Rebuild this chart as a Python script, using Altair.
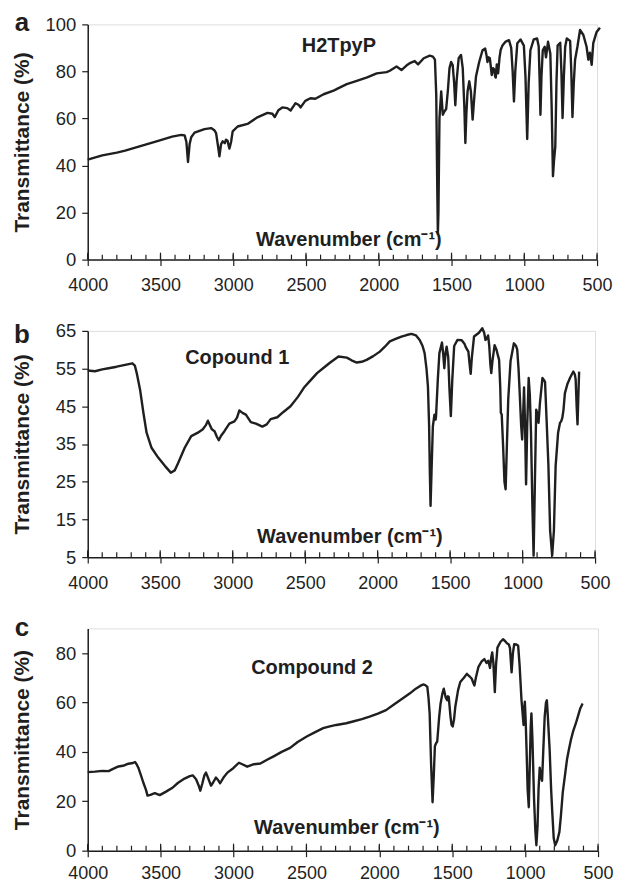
import altair as alt
import pandas as pd

# ---------------- data ----------------
A_WN = [4000, 3900, 3800, 3743, 3650, 3516, 3420, 3357, 3334, 3322, 3311, 3300, 3289, 3266, 3198, 3152, 3130, 3118,
        3104, 3095, 3084, 3073, 3058, 3050, 3039, 3030, 3026, 3015, 3004, 2970, 2902, 2834, 2765, 2731, 2715, 2690,
        2663, 2629, 2606, 2572, 2549, 2538, 2505, 2470, 2436, 2379, 2311, 2287, 2220, 2151, 2080, 2014, 1946, 1924,
        1878, 1844, 1810, 1787, 1753, 1730, 1691, 1650, 1628, 1614, 1605, 1598, 1594, 1590, 1583, 1571, 1560, 1549,
        1537, 1525, 1514, 1503, 1492, 1482, 1474, 1465, 1451, 1435, 1423, 1412, 1405, 1398, 1390, 1378, 1367, 1355,
        1345, 1332, 1310, 1287, 1269, 1260, 1253, 1245, 1237, 1230, 1224, 1215, 1208, 1200, 1196, 1189, 1180, 1170,
        1162, 1150, 1128, 1105, 1090, 1080, 1071, 1062, 1048, 1026, 1003, 992, 980, 970, 958, 935, 912, 901, 894, 889,
        882, 873, 860, 851, 837, 821, 812, 803, 796, 787, 779, 771, 753, 745, 737, 728, 719, 708, 685, 677, 669, 660,
        651, 635, 617, 594, 572, 560, 549, 537, 526, 503, 480]
A_T = [42.5, 44.3, 45.5, 46.3, 48, 50.5, 52.3, 53, 52.8, 50, 41.5, 49, 52, 54, 55.5, 55.9, 55, 53.8,
       48, 43.9, 49, 50.3, 49.5, 51, 50.5, 48, 47.2, 50, 54.5, 56.6, 57.7, 60.5, 62.4, 62, 60.6, 63.5,
       64.7, 64.4, 63.4, 66.5, 65.7, 64.7, 67.5, 68.6, 68.4, 70.3, 71.8, 72.6, 74.6, 76, 77.5, 79.2, 79.7, 80.3,
       82.1, 80.6, 82.5, 83.5, 84.4, 83, 85.6, 86.7, 86.3, 85, 70, 30, 11, 20, 60, 71.5, 61.6, 63,
       64, 72, 81.4, 84, 82.7, 75, 65.6, 76, 85.6, 87, 81.4, 65, 49.6, 62, 71.5, 75.8, 71.5, 59.5,
       68, 77.8, 84, 89, 89.7, 87, 84, 86, 85.6, 82, 78.5, 81.4, 81, 77.8, 77.4, 83, 79.2, 86,
       89.2, 91, 92.7, 93.3, 90, 80, 67.2, 80, 92, 93.6, 91, 78, 51.3, 75, 89, 93.6, 94, 90.6, 75, 61.6,
       78, 89, 90.5, 86, 92.6, 87.5, 65, 35.5, 42, 48, 75, 91, 92.2, 80, 60.2, 78, 90.5, 94, 93, 80, 60.6, 75,
       85, 90.5, 97.6, 95.5, 90.5, 85, 88, 82.8, 92, 96.8, 98.6]

B_WN = [4000, 3950, 3900, 3856, 3800, 3742, 3692, 3675, 3662, 3639, 3616, 3594, 3560, 3514, 3468, 3427, 3400, 3377,
        3331, 3286, 3240, 3206, 3185, 3171, 3157, 3144, 3125, 3110, 3096, 3080, 3057, 3023, 2988, 2970, 2954, 2930,
        2909, 2875, 2840, 2795, 2765, 2738, 2692, 2650, 2601, 2550, 2509, 2460, 2418, 2370, 2327, 2270, 2213, 2180,
        2144, 2110, 2076, 2030, 1985, 1950, 1916, 1880, 1836, 1800, 1767, 1735, 1710, 1690, 1676, 1663, 1653, 1645,
        1640, 1635, 1628, 1619, 1608, 1600, 1597, 1585, 1574, 1556, 1548, 1540, 1532, 1524, 1513, 1505, 1495, 1485,
        1472, 1449, 1420, 1400, 1392, 1374, 1365, 1358, 1350, 1335, 1301, 1278, 1265, 1256, 1248, 1238, 1230, 1222,
        1216, 1208, 1193, 1180, 1173, 1162, 1154, 1150, 1144, 1135, 1125, 1117, 1108, 1099, 1083, 1060, 1045, 1037,
        1028, 1021, 1010, 1003, 996, 990, 983, 976, 968, 958, 950, 942, 932, 924, 915, 906, 898, 890, 880, 863, 853,
        845, 835, 822, 810, 796, 784, 772, 755, 742, 734, 726, 718, 708, 690, 673, 660, 650, 640, 634, 627, 621,
        615, 610]
B_T = [54.5, 54.3, 54.8, 55.1, 55.5, 56, 56.4, 55.8, 53.8, 49.4, 43.3, 38, 34, 31.4, 29.2, 27.4, 28, 29.9,
       34, 37.1, 38, 38.9, 40, 41.2, 40, 38.9, 38.4, 37, 36, 37.2, 38.4, 40.4, 41, 42, 43.9, 43.2,
       42.8, 40.8, 40.4, 39.6, 40.2, 41.6, 42.1, 43.5, 45, 47.5, 49.9, 52, 53.8, 55.3, 56.6, 58.2, 57.9, 57.2,
       56.6, 56.8, 57.3, 58.3, 59.5, 60.8, 62.2, 62.8, 63.5, 63.9, 64.2, 63.8, 62.6, 61, 59.1, 55, 50.3, 40,
       28, 18.6, 28, 39.7, 42.8, 41.5, 42.4, 52, 59.1, 61.9, 59, 55.1, 59, 60.8, 58, 50, 42.4, 52,
       61, 62.6, 62.5, 61.5, 60.7, 59.5, 56, 53.6, 58, 63.5, 64.5, 65.7, 64.5, 62.6, 63, 63.8, 61, 56,
       53.8, 57, 61.2, 60, 58.9, 57.3, 50, 43.3, 42.8, 35, 25, 23, 35, 46.8, 57, 61.7, 61, 60,
       55, 49.4, 40, 36.2, 43, 50, 40, 24.3, 40, 52.5, 48, 38, 18, 5.4, 25, 44.1, 43, 40.6, 46, 52.5, 52,
       51.4, 42, 29.5, 12, 5.4, 12, 29.2, 38, 40.6, 41, 41.9, 44, 48.5, 51, 52.5, 53.5, 54.2, 53.5, 52.2, 45, 40.2,
       48, 54.2]

C_WN = [4000, 3950, 3900, 3857, 3830, 3789, 3750, 3721, 3690, 3676, 3665, 3653, 3635, 3619, 3600, 3590, 3570, 3540,
        3506, 3460, 3416, 3380, 3336, 3300, 3280, 3257, 3240, 3228, 3215, 3200, 3189, 3175, 3155, 3140, 3121, 3105,
        3092, 3070, 3042, 3000, 2963, 2940, 2906, 2860, 2816, 2770, 2725, 2670, 2612, 2560, 2498, 2440, 2385, 2340,
        2295, 2227, 2181, 2120, 2067, 2010, 1954, 1900, 1841, 1790, 1750, 1720, 1700, 1685, 1671, 1663, 1655, 1645,
        1635, 1627, 1619, 1611, 1603, 1590, 1580, 1568, 1558, 1545, 1535, 1529, 1524, 1512, 1505, 1497, 1488, 1479,
        1460, 1445, 1420, 1400, 1380, 1366, 1356, 1348, 1338, 1321, 1300, 1280, 1265, 1253, 1241, 1233, 1226, 1218,
        1208, 1200, 1190, 1170, 1152, 1138, 1125, 1112, 1104, 1093, 1084, 1075, 1060, 1048, 1038, 1025, 1018, 1011,
        1006, 1002, 996, 991, 983, 975, 968, 962, 957, 950, 939, 930, 923, 915, 908, 900, 892, 884, 876, 866, 857,
        851, 845, 832, 822, 814, 804, 794, 780, 765, 755, 742, 728, 713, 700, 686, 670, 652, 635, 622, 606]
C_T = [31.8, 32, 32.3, 32.2, 33, 34.1, 34.5, 35.2, 35.5, 35.9, 35, 33.6, 30.5, 27.6, 24.5, 22.3, 22.6, 23.3,
       22.5, 24, 25.6, 27.5, 29.2, 30.2, 30.5, 28.9, 26.5, 24.3, 27, 30.5, 31.6, 29.5, 26.3, 27.6, 29.6, 28.5,
       27.3, 29.5, 31.6, 33.5, 35.6, 35, 34, 35, 35.3, 36.8, 38.2, 40, 41.6, 44, 46.2, 48, 49.6, 50.3,
       50.9, 51.6, 52.3, 53.3, 54.3, 55.5, 56.9, 59.2, 61.6, 63.7, 65.6, 66.7, 67.3, 67, 66.3, 62, 55.6, 35,
       19.6, 30, 42.3, 43.5, 44.2, 54, 59.6, 63.5, 65.6, 62, 60.9, 62.5, 62.2, 54.3, 51, 50.3, 53, 58.3,
       65, 68.3, 70, 71.6, 70.5, 69.6, 68, 66.9, 70, 74.3, 76.5, 77.6, 76, 76.9, 74, 78, 80.3, 76,
       64.2, 75, 82.2, 84.5, 85.6, 84.9, 84, 83.5, 82, 72.2, 80, 83.6, 83.5, 83, 75, 60.9, 56, 50.9,
       58, 60.3, 52, 42.3, 25, 17.6, 35, 50, 55.6, 45, 20.9, 8, 2.2, 10, 25, 33.6, 30, 28.3, 40, 54.3, 60,
       60.9, 55, 40.9, 25, 15.6, 5, 2.2, 4, 7.6, 14, 23.6, 30, 36.9, 41, 44.9, 48.5, 51.6, 55, 57.6, 59.6]

X_MAJOR = [4000, 3500, 3000, 2500, 2000, 1500, 1000, 500]
X_MINOR = list(range(4000, 499, -100))

FONT = "Liberation Sans"
INK = "#1f1f1f"


def panel(wn, t, letter, name, name_pos, wav_pos, ydom, yticks, w, h, letter_y, xlabpad):
    df = pd.DataFrame({"wn": wn, "T": t, "idx": list(range(len(wn)))})
    xscale = alt.Scale(domain=[500, 4000], reverse=True, nice=False, zero=False)
    yscale = alt.Scale(domain=ydom, nice=False, zero=False)
    xaxis = alt.Axis(values=X_MAJOR, format="d", title=None, grid=False, labelFont=FONT,
                     labelFontSize=18, labelColor=INK, tickSize=6, tickColor=INK, tickWidth=1.2,
                     labelPadding=xlabpad, domainColor=INK, domainWidth=1.5, labelFlush=False)
    yaxis = alt.Axis(values=yticks, title="Transmittance (%)", grid=False, labelFont=FONT,
                     labelFontSize=18.5, labelColor=INK, tickSize=6, tickColor=INK, tickWidth=1.2,
                     labelPadding=6, domainColor=INK, domainWidth=1.5,
                     titleFont=FONT, titleFontSize=21, titleFontWeight="bold", titleColor=INK,
                     titleX=-65, titleY=h / 2, titleBaseline="middle", titleAlign="center", titleAngle=270)
    line = alt.Chart(df).mark_line(color=INK, strokeWidth=2.4, strokeJoin="round").encode(
        x=alt.X("wn:Q", scale=xscale, axis=xaxis),
        y=alt.Y("T:Q", scale=yscale, axis=yaxis),
        order=alt.Order("idx:Q"),
    )

    minor = alt.Chart(pd.DataFrame({"wn": X_MINOR})).mark_rule(color=INK, strokeWidth=1.2).encode(
        x=alt.X("wn:Q", scale=xscale), y=alt.value(h), y2=alt.value(h - 5))
    major = alt.Chart(pd.DataFrame({"wn": X_MAJOR})).mark_rule(color=INK, strokeWidth=1.2).encode(
        x=alt.X("wn:Q", scale=xscale), y=alt.value(h), y2=alt.value(h - 7))

    tdf = pd.DataFrame({"k": [0]})
    lt = alt.Chart(tdf).mark_text(font=FONT, fontSize=26, fontWeight="bold", color=INK,
                                  align="center", baseline="alphabetic").encode(
        x=alt.value(-66), y=alt.value(letter_y), text=alt.value(letter))
    nt = alt.Chart(tdf).mark_text(font=FONT, fontSize=20, fontWeight="bold", color=INK,
                                  align="center", baseline="middle").encode(
        x=alt.value(name_pos[0]), y=alt.value(name_pos[1]), text=alt.value(name))
    wt = alt.Chart(tdf).mark_text(font=FONT, fontSize=20, fontWeight="bold", color=INK,
                                  align="center", baseline="middle").encode(
        x=alt.value(wav_pos[0]), y=alt.value(wav_pos[1]), text=alt.value("Wavenumber (cm\u207b\u00b9)"))
    return alt.layer(line, minor, major, lt, nt, wt).properties(width=w, height=h)


pa = panel(A_WN, A_T, "a", "H2TpyP", (252, 22), (262, 216), [0, 100], [0, 20, 40, 60, 80, 100],
           511, 236, 7, 11)
pb = panel(B_WN, B_T, "b", "Copound 1", (150, 27), (263, 207), [5, 65], [5, 15, 25, 35, 45, 55, 65],
           509, 227, 12, 11)
pc = panel(C_WN, C_T, "c", "Compound 2", (225, 40), (260, 200), [0, 90], [0, 20, 40, 60, 80],
           512, 223, 8, 8)

chart = alt.vconcat(pa, pb, pc, spacing=71.5, bounds="flush").properties(
    padding={"left": 3, "top": 0, "right": 0, "bottom": -3}
).configure_view(
    stroke=INK, strokeWidth=1.3
).configure(background="white")

chart.save("out.html", embed_options={"renderer": "svg", "actions": False})
